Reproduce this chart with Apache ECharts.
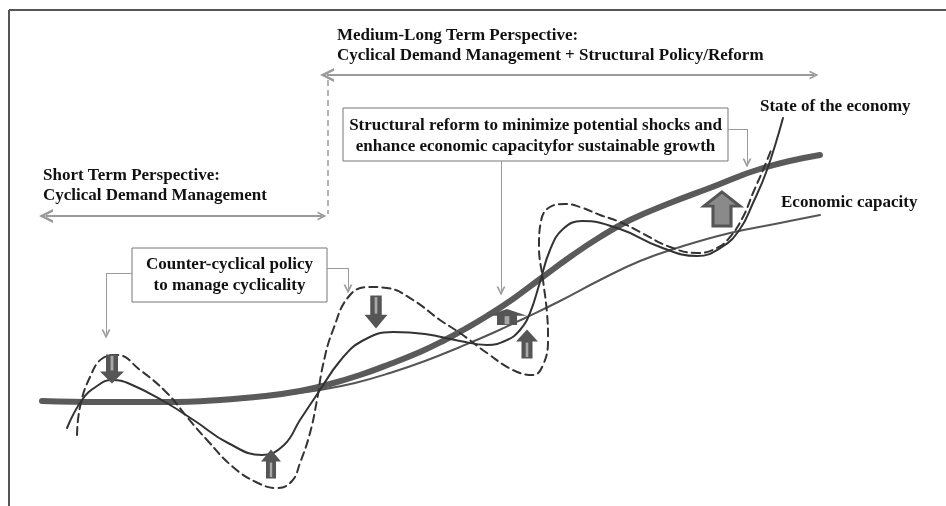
<!DOCTYPE html>
<html>
<head>
<meta charset="utf-8">
<script src="https://cdn.jsdelivr.net/npm/echarts@6/dist/echarts.min.js"></script>
<style>
  html, body { margin: 0; padding: 0; background: #fff; }
  #chart { width: 946px; height: 506px; }
</style>
</head>
<body>
<div id="chart"></div>
<script>
// curves (x = time, y = level, y axis inverted like the page)
const stateTrend = [[42,401],[100,402],[167,402],[220,400],[265,396],[300,391],[330,384],[360,375],[390,364],[420,352],[443,341],[465,329],[487,316],[513,299],[540,279],[570,257],[600,237],[630,220],[670,203],[707,189],[763,168],[820,155]]
const capacity = [[290,394],[320,390],[355,383],[390,373],[425,361],[460,347],[495,332],[527,317],[560,301],[600,280],[640,261],[680,247],[730,233],[780,223],[820,215]]
const cycle = [[67,428],[82,400],[97,386],[112,380],[130,384],[165,402],[195,421],[228,443],[262,455],[284,445],[300,420],[320,390],[340,361],[362,341],[393,332],[425,334],[460,341],[487,345],[507,340],[520,330],[530,313],[540,282],[550,250],[563,229],[582,221],[620,229],[660,247],[697,256],[722,247],[740,229],[753,203],[767,170],[783,118]]
const cycleNoPolicy = [[77,435],[80,407],[90,377],[103,358],[117,355],[140,370],[167,393],[187,417],[207,440],[233,467],[258,483],[277,488],[292,481],[300,463],[310,433],[317,400],[323,365],[333,330],[350,295],[370,287],[387,288],[413,300],[440,320],[460,333],[487,353],[513,370],[533,375],[543,365],[548,340],[547,313],[543,280],[539,247],[541,221],[550,207],[565,204],[580,207],[600,215],[620,222],[640,232],[670,247],[697,253],[717,248],[730,237],[743,217],[753,193],[763,170],[772,148]]

// policy push arrows: [x, y, width, height, direction]
const pushArrows = [[112,369,24,29,'down'],[376,312,23,33,'down'],[271,464,20,29,'up'],[527,344,22,29,'up'],[507,317,40,16,'up']]
const bigArrow = [[722,209,36,34,'up']]

// horizon arrows and callout leaders
const horizonArrows = [[[327,75],[814,75]],[[46,216],[322,216]]]
const horizonJoin = [[[328,80],[328,214]]]
const leaderRuns = [[[132,273],[106,273]],[[327,268],[348,268]],[[728,129],[747,129]]]
const leaderDrops = [[[106,273],[106,334]],[[348,268],[348,289]],[[501,161],[501,291]],[[747,129],[747,163]]]

const FONT = 'bold 17px "Liberation Serif", "DejaVu Serif", serif'
const ARROW = 'path://M10,0 L20,10 L15,10 L15,24 L5,24 L5,10 L0,10 Z'
const CHEVRON = 'path://M0,10 L5,0 L10,10 L8,10 L5,4 L2,10 Z'

const chart = echarts.init(document.getElementById('chart'))

function curve(data, width, color, dash) {
  return {
    type: 'line',
    data: data,
    smooth: 0.45,
    showSymbol: false,
    silent: true,
    lineStyle: { width: width, color: color, type: dash || 'solid', cap: 'round' }
  }
}

function arrowSeries(list, fill, border, stripe) {
  const out = [{
    type: 'scatter',
    silent: true,
    z: 5,
    data: list.map(a => ({
      value: [a[0], a[1]],
      symbolSize: [a[2], a[3]],
      symbolRotate: a[4] === 'down' ? 180 : 0
    })),
    symbol: ARROW,
    symbolKeepAspect: false,
    itemStyle: { color: fill, borderColor: border, borderWidth: border ? 3 : 0, opacity: 1 }
  }]
  if (stripe) {
    out.push({
      type: 'scatter',
      silent: true,
      z: 6,
      symbol: 'rect',
      data: list.map(a => ({
        value: [a[0], a[1]],
        symbolSize: [Math.max(2, a[2] * 0.12), a[3] * 0.5],
        symbolOffset: [0, (a[4] === 'down' ? -1 : 1) * a[3] * 0.2]
      })),
      itemStyle: { color: '#a8a8a8', opacity: 1 }
    })
  }
  return out
}

function segSeries(list, width, color, symbols, size, dash) {
  return {
    type: 'lines',
    coordinateSystem: 'cartesian2d',
    silent: true,
    symbol: symbols,
    symbolSize: size,
    lineStyle: { width: width, color: color, type: dash || 'solid', opacity: 1 },
    data: list.map(c => ({ coords: c }))
  }
}

function txt(x, y, text, align) {
  return {
    type: 'text', x: x, y: y, silent: true,
    style: { text: text, font: FONT, fill: '#111', align: align || 'left', verticalAlign: 'middle' }
  }
}

function box(x, y, w, h) {
  return {
    type: 'rect', silent: true,
    shape: { x: x, y: y, width: w, height: h },
    style: { fill: '#fff', stroke: '#777', lineWidth: 1 }
  }
}

chart.setOption({
  animation: false,
  grid: { left: 0, right: 0, top: 0, bottom: 0 },
  xAxis: { type: 'value', min: 0, max: 946, show: false },
  yAxis: { type: 'value', min: 0, max: 506, inverse: true, show: false },
  series: [
    segSeries(horizonArrows, 2, '#9a9a9a', [CHEVRON, CHEVRON], [14, 9]),
    segSeries(horizonJoin, 1.5, '#9a9a9a', ['none', 'none'], 0, [6, 4]),
    segSeries(leaderRuns, 1, '#9a9a9a', ['none', 'none'], 0),
    segSeries(leaderDrops, 1, '#9a9a9a', ['none', CHEVRON], [11, 9]),
    curve(capacity, 2, '#555'),
    curve(stateTrend, 6, '#5a5a5a'),
    curve(cycleNoPolicy, 2, '#333', [8, 5]),
    curve(cycle, 2, '#333'),
    ...arrowSeries(pushArrows, '#555', null, true),
    ...arrowSeries(bigArrow, '#8a8a8a', '#555', false)
  ],
  graphic: [
    { type: 'line', silent: true, shape: { x1: 9, y1: 10, x2: 946, y2: 10 }, style: { stroke: '#555', lineWidth: 2 } },
    { type: 'line', silent: true, shape: { x1: 9, y1: 10, x2: 9, y2: 506 }, style: { stroke: '#555', lineWidth: 2 } },
    txt(337, 36, 'Medium-Long Term Perspective:'),
    txt(337, 56, 'Cyclical Demand Management + Structural Policy/Reform'),
    txt(43, 176, 'Short Term Perspective:'),
    txt(43, 196, 'Cyclical Demand Management'),
    box(132, 248, 195, 54),
    txt(229.5, 265, 'Counter-cyclical policy', 'center'),
    txt(229.5, 286, 'to manage cyclicality', 'center'),
    box(343, 108, 385, 53),
    txt(535.5, 126, 'Structural reform to minimize potential shocks and', 'center'),
    txt(535.5, 147, 'enhance economic capacityfor sustainable growth', 'center'),
    txt(760, 107, 'State of the economy'),
    txt(781, 203, 'Economic capacity')
  ]
})
</script>
</body>
</html>
